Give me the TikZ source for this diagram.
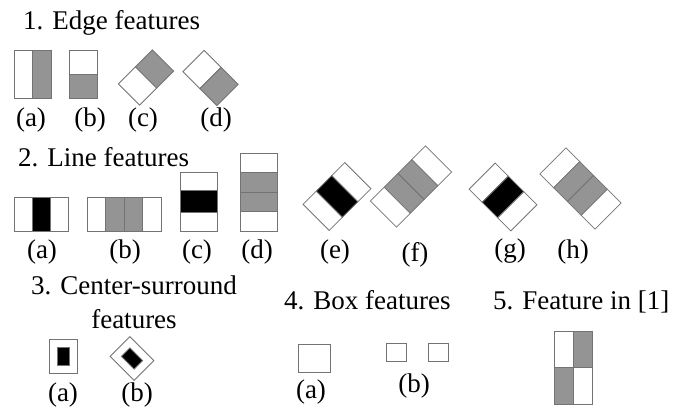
\documentclass[tikz,border=0pt]{standalone}
\usepackage{tikz}
\usetikzlibrary{positioning}
\usepackage{fontspec}
\setmainfont{Liberation Serif}
\newfontfamily\figserif{Liberation Serif}

\tikzset{
    cell/.style = {draw=black!55, line width=0.8pt},
    wcell/.style = {cell, fill=white},
    gcell/.style = {cell, fill=black!42},
    bcell/.style = {cell, fill=black},
    lbl/.style = {font=\figserif\fontsize{27}{34}\selectfont, inner sep=0pt}
}

\begin{document}
\begin{tikzpicture}[x=1pt, y=-1pt]
            \useasboundingbox (0,0) rectangle (694,411);

            \node[lbl, anchor=base west] (edgetitle) at (23,30) {1. Edge features};
            \draw[wcell] (14,50) rectangle (32,98);
            \draw[gcell] (32,50) rectangle (51,98);
            \draw[wcell] (69,50) rectangle (97,74);
            \draw[gcell] (69,74) rectangle (97,98);
            \begin{scope}[shift={(146,77.5)}, rotate=-45]
                \draw[gcell] (-15,-24) rectangle (15,0);
                \draw[wcell] (-15,0) rectangle (15,24);
            \end{scope}
            \begin{scope}[shift={(210.5,78)}, rotate=45]
                \draw[wcell] (-15,-24) rectangle (15,0);
                \draw[gcell] (-15,0) rectangle (15,24);
            \end{scope}
            \node[lbl] (edgea) at (31,120) {(a)};
            \node[lbl] (edgeb) at (90,120) {(b)};
            \node[lbl] (edgec) at (143,120) {(c)};
            \node[lbl] (edged) at (216,120) {(d)};

            \node[lbl, anchor=base west] (linetitle) at (18,167) {2. Line features};
            \draw[wcell] (14,197) rectangle (32,231);
            \draw[bcell] (32,197) rectangle (50,231);
            \draw[wcell] (50,197) rectangle (68,231);
            \draw[wcell] (87,197) rectangle (105.5,231);
            \draw[gcell] (105.5,197) rectangle (124,231);
            \draw[gcell] (124,197) rectangle (142.5,231);
            \draw[wcell] (142.5,197) rectangle (161,231);
            \draw[wcell] (180,172) rectangle (217,190.5);
            \draw[bcell] (180,190.5) rectangle (217,212.5);
            \draw[wcell] (180,212.5) rectangle (217,231);
            \draw[wcell] (240,153) rectangle (277,172.5);
            \draw[gcell] (240,172.5) rectangle (277,192);
            \draw[gcell] (240,192) rectangle (277,211.5);
            \draw[wcell] (240,211.5) rectangle (277,231);
            \begin{scope}[shift={(337,196.5)}, rotate=-45]
                \draw[wcell] (-18.5,-29.5) rectangle (18.5,-11);
                \draw[bcell] (-18.5,-11) rectangle (18.5,11);
                \draw[wcell] (-18.5,11) rectangle (18.5,29.5);
            \end{scope}
            \begin{scope}[shift={(411,186.5)}, rotate=-45]
                \draw[wcell] (-18.5,-39) rectangle (18.5,-19.5);
                \draw[gcell] (-18.5,-19.5) rectangle (18.5,0);
                \draw[gcell] (-18.5,0) rectangle (18.5,19.5);
                \draw[wcell] (-18.5,19.5) rectangle (18.5,39);
            \end{scope}
            \begin{scope}[shift={(503,197)}, rotate=45]
                \draw[wcell] (-18.5,-29.5) rectangle (18.5,-11);
                \draw[bcell] (-18.5,-11) rectangle (18.5,11);
                \draw[wcell] (-18.5,11) rectangle (18.5,29.5);
            \end{scope}
            \begin{scope}[shift={(580.5,188.5)}, rotate=45]
                \draw[wcell] (-18.5,-39) rectangle (18.5,-19.5);
                \draw[gcell] (-18.5,-19.5) rectangle (18.5,0);
                \draw[gcell] (-18.5,0) rectangle (18.5,19.5);
                \draw[wcell] (-18.5,19.5) rectangle (18.5,39);
            \end{scope}
            \node[lbl] (linea) at (42,252) {(a)};
            \node[lbl] (lineb) at (125,252) {(b)};
            \node[lbl] (linec) at (197,252) {(c)};
            \node[lbl] (lined) at (257,252) {(d)};
            \node[lbl] (linee) at (335,252) {(e)};
            \node[lbl] (linef) at (415,255) {(f)};
            \node[lbl] (lineg) at (510,251) {(g)};
            \node[lbl] (lineh) at (573,252) {(h)};

            \node[lbl, align=center, anchor=north] (centertitle) at (134,276) {3. Center-surround\\features};
            \draw[wcell] (49,339) rectangle (77,373);
            \draw[bcell] (57,347) rectangle (69,365);
            \begin{scope}[shift={(132,358.5)}, rotate=45]
                \draw[wcell] (-14,-17) rectangle (14,17);
                \draw[bcell] (-6,-9) rectangle (6,9);
            \end{scope}
            \node[lbl] (centera) at (63,395) {(a)};
            \node[lbl] (centerb) at (137,395) {(b)};

            \node[lbl, anchor=base west] (boxtitle) at (284,310) {4. Box features};
            \draw[wcell] (298,344) rectangle (330,372);
            \draw[wcell] (386,343) rectangle (406,361);
            \draw[wcell] (428,343) rectangle (448,361);
            \node[lbl] (boxa) at (311,392) {(a)};
            \node[lbl] (boxb) at (414,386) {(b)};

            \node[lbl, anchor=base west] (reftitle) at (493,310) {5. Feature in [1]};
            \draw[wcell] (554,331) rectangle (573,367);
            \draw[gcell] (573,331) rectangle (592,367);
            \draw[gcell] (554,367) rectangle (573,404);
            \draw[wcell] (573,367) rectangle (592,404);

        \end{tikzpicture}
\end{document}
